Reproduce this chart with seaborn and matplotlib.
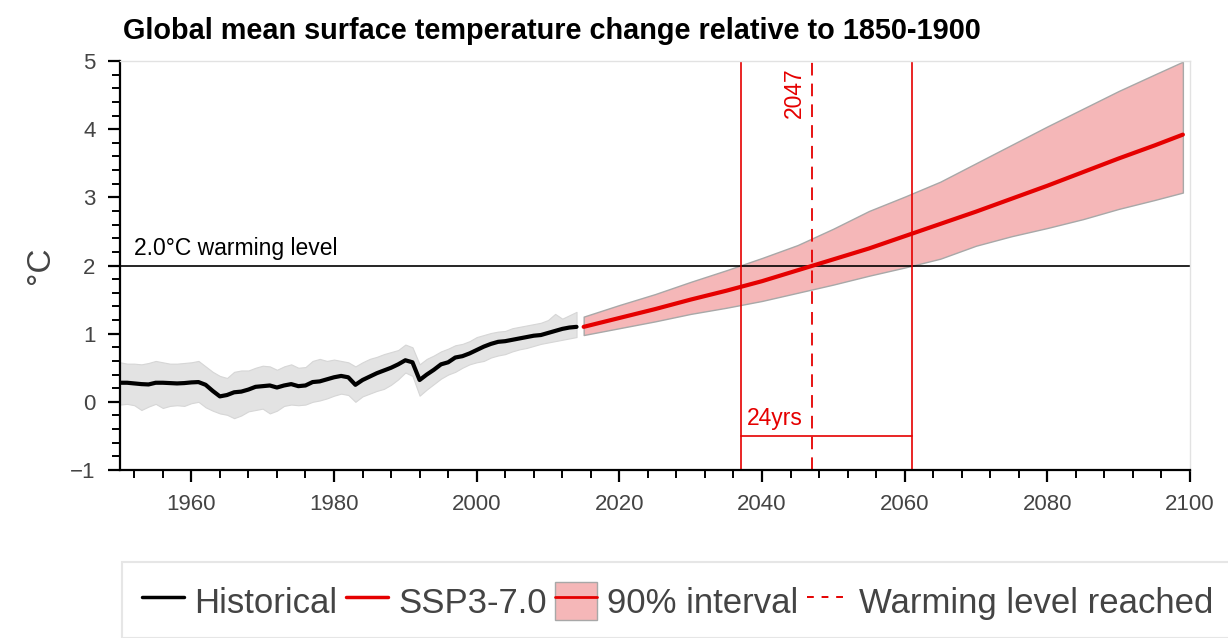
import matplotlib
matplotlib.use("Agg")
import matplotlib.pyplot as plt
import seaborn as sns
from matplotlib.lines import Line2D
from matplotlib.patches import Patch, Rectangle
from matplotlib.ticker import MultipleLocator

hist_years = list(range(1950, 2015))
hist_mean = [0.28, 0.28, 0.27, 0.26, 0.255, 0.28, 0.28, 0.275, 0.27, 0.275,
             0.285, 0.29, 0.25, 0.16, 0.08, 0.10, 0.14, 0.15, 0.18, 0.22,
             0.23, 0.24, 0.21, 0.24, 0.26, 0.23, 0.24, 0.29, 0.30, 0.33,
             0.36, 0.38, 0.36, 0.25, 0.32, 0.37, 0.42, 0.46, 0.50, 0.55,
             0.61, 0.58, 0.32, 0.40, 0.47, 0.55, 0.58, 0.65, 0.67, 0.71,
             0.76, 0.81, 0.85, 0.88, 0.89, 0.91, 0.93, 0.95, 0.97, 0.98,
             1.01, 1.04, 1.07, 1.09, 1.10]
hist_high = [0.58, 0.56, 0.56, 0.55, 0.57, 0.60, 0.58, 0.56, 0.56, 0.57,
             0.58, 0.60, 0.52, 0.44, 0.38, 0.35, 0.44, 0.46, 0.46, 0.50,
             0.53, 0.52, 0.47, 0.52, 0.55, 0.50, 0.51, 0.60, 0.63, 0.60,
             0.62, 0.60, 0.58, 0.52, 0.58, 0.63, 0.66, 0.70, 0.73, 0.76,
             0.84, 0.80, 0.55, 0.63, 0.68, 0.74, 0.78, 0.83, 0.85, 0.89,
             0.95, 0.98, 1.01, 1.03, 1.04, 1.08, 1.10, 1.12, 1.14, 1.16,
             1.20, 1.29, 1.22, 1.27, 1.32]
hist_low = [-0.04, -0.03, -0.05, -0.12, -0.07, -0.03, -0.09, -0.06, -0.05, -0.06,
            -0.02, 0.00, -0.08, -0.13, -0.17, -0.19, -0.24, -0.20, -0.14, -0.12,
            -0.10, -0.17, -0.13, -0.06, -0.04, -0.05, -0.04, 0.00, 0.02, 0.05,
            0.09, 0.12, 0.10, 0.00, 0.08, 0.12, 0.16, 0.19, 0.25, 0.33,
            0.43, 0.38, 0.09, 0.18, 0.26, 0.34, 0.40, 0.44, 0.50, 0.55,
            0.58, 0.60, 0.65, 0.68, 0.70, 0.74, 0.77, 0.79, 0.82, 0.85,
            0.87, 0.89, 0.91, 0.93, 0.95]

ssp_years = [2015, 2020, 2025, 2030, 2035, 2040, 2045, 2050, 2055,
             2060, 2065, 2070, 2075, 2080, 2085, 2090, 2095, 2099]
ssp_mean = [1.10, 1.23, 1.36, 1.50, 1.63, 1.77, 1.93, 2.09, 2.25,
            2.43, 2.61, 2.79, 2.98, 3.17, 3.37, 3.57, 3.76, 3.92]
ssp_high = [1.25, 1.42, 1.58, 1.76, 1.93, 2.11, 2.30, 2.54, 2.80,
            3.01, 3.23, 3.50, 3.77, 4.04, 4.30, 4.56, 4.80, 4.99]
ssp_low = [0.98, 1.08, 1.18, 1.29, 1.38, 1.48, 1.60, 1.72, 1.85,
           1.97, 2.10, 2.29, 2.43, 2.55, 2.68, 2.83, 2.96, 3.07]

warming_level = 2.0
year_reached = 2047
range_start, range_end = 2037, 2061
bracket_y = -0.5

x_ticks = [1960, 1980, 2000, 2020, 2040, 2060, 2080, 2100]
y_ticks = [-1, 0, 1, 2, 3, 4, 5]
y_tick_labels = ["\u22121", "0", "1", "2", "3", "4", "5"]

RED = "#e50000"

sns.set_style("ticks")
plt.rcParams["font.family"] = ["Liberation Sans", "DejaVu Sans"]

fig = plt.figure(figsize=(12.28, 6.38), dpi=100)
ax = fig.add_axes([120 / 1228, 1 - 470 / 638, 1070 / 1228, 409 / 638])

# historical
ax.fill_between(hist_years, hist_low, hist_high, color="#e3e3e3",
                edgecolor="#d6d6d6", linewidth=0.8, zorder=1)
sns.lineplot(x=hist_years, y=hist_mean, ax=ax, color="black", linewidth=3, zorder=3)

# projection
ax.fill_between(ssp_years, ssp_low, ssp_high, color="#f5b7b8",
                edgecolor="#a8a8a8", linewidth=1.0, zorder=1)
sns.lineplot(x=ssp_years, y=ssp_mean, ax=ax, color=RED, linewidth=3, zorder=3)

# warming level and crossing years
ax.axhline(warming_level, color="black", linewidth=1.2, zorder=2)
ax.text(1951.9, 2.15, "2.0°C warming level", fontsize=16.5, color="black", va="baseline")

ax.axvline(range_start, color=RED, linewidth=1.2, zorder=2)
ax.axvline(range_end, color=RED, linewidth=1.2, zorder=2)
ax.axvline(year_reached, color=RED, linewidth=1.3, linestyle=(0, (7, 4.5)), zorder=2)
ax.plot([range_start, range_end], [bracket_y, bracket_y], color=RED, linewidth=1.2)
ax.text(range_start + 0.9, -0.34, f"{range_end - range_start}yrs",
        fontsize=16.5, color=RED, va="baseline")
ax.text(year_reached - 0.8, 4.9, str(year_reached), rotation=90, color=RED,
        fontsize=16.5, ha="right", va="top")

ax.set_xlim(1950, 2100)
ax.set_ylim(-1, 5)
ax.set_xticks(x_ticks)
ax.xaxis.set_minor_locator(MultipleLocator(4))
ax.set_yticks(y_ticks)
ax.set_yticklabels(y_tick_labels)
ax.yaxis.set_minor_locator(MultipleLocator(0.2))

for side in ["left", "bottom"]:
    ax.spines[side].set_color("black")
    ax.spines[side].set_linewidth(1.6)
for side in ["top", "right"]:
    ax.spines[side].set_color("#e2e2e2")
    ax.spines[side].set_linewidth(1.0)
ax.tick_params(which="major", direction="out", length=8.5, width=1.6,
               color="black", labelsize=16, labelcolor="#444444")
ax.tick_params(which="minor", direction="out", length=5.5, width=1.4, color="black")
ax.tick_params(axis="x", which="major", pad=9)
ax.tick_params(axis="y", which="major", pad=9)

ax.set_xlabel("")
ax.set_ylabel("°C", fontsize=24, color="#444444")
ax.yaxis.set_label_coords(-0.06, 0.5)

fig.text(123 / 1228, 1 - 31 / 638, "Global mean surface temperature change relative to 1850-1900",
         fontsize=20.8, fontweight="bold", color="black", ha="left", va="center")

# legend box
fig.patches.append(Rectangle((122 / 1228, 0), 1.0, 1 - 562 / 638, transform=fig.transFigure,
                             facecolor="white", edgecolor="#e6e6e6", linewidth=1.5))
handles = [
    Line2D([], [], color="black", linewidth=2.5),
    Line2D([], [], color=RED, linewidth=2.5),
    (Patch(facecolor="#f5b7b8", edgecolor="#a8a8a8", linewidth=1.0),
     Line2D([], [], color=RED, linewidth=2.0)),
    Line2D([], [], color=RED, linewidth=1.4, linestyle=(0, (3.5, 4))),
]
labels = ["Historical", "SSP3-7.0", "90% interval", "Warming level reached"]
fig.legend(handles, labels, loc="center left", bbox_to_anchor=(142 / 1228, 1 - 601 / 638),
           ncol=4, frameon=False, fontsize=25, labelcolor="#444444",
           handlelength=1.2, handleheight=1.3, handletextpad=0.3, columnspacing=0.25,
           borderpad=0, borderaxespad=0)

fig.savefig("out.png", dpi=100)
